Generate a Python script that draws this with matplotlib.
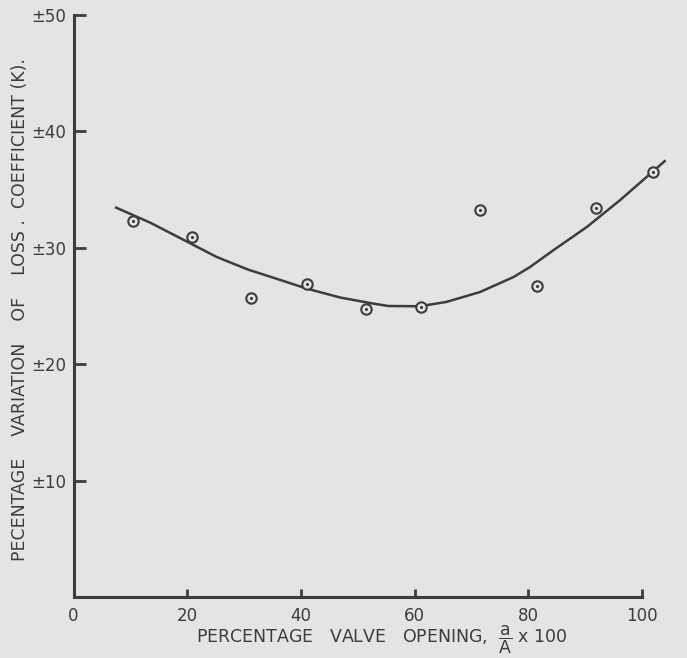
import matplotlib
matplotlib.use('Agg')
import matplotlib.pyplot as plt

# Measured points (valve opening %, variation of K %)
opening = [10.4, 20.8, 31.3, 41.1, 51.4, 61.1, 71.5, 81.6, 91.9, 102.0]
variation = [32.27, 30.93, 25.73, 26.87, 24.78, 24.92, 33.28, 26.72, 33.45, 36.5]

# Hand-drawn trend curve, read along its length
curve_x = [7.5, 13.5, 19.3, 25.2, 30.7, 35.1, 41.0, 46.9, 52.7, 55.4, 60.9,
           65.6, 71.5, 77.4, 80.3, 84.4, 90.3, 96.1, 100.8, 104.0]
curve_y = [33.45, 32.16, 30.70, 29.21, 28.13, 27.44, 26.50, 25.73, 25.21, 25.0,
           24.98, 25.35, 26.2, 27.49, 28.35, 29.79, 31.79, 34.08, 36.08, 37.45]

xticks = [0, 20, 40, 60, 80, 100]
yticks = [10, 20, 30, 40, 50]
ytick_labels = ['\u00b110', '\u00b120', '\u00b130', '\u00b140', '\u00b150']

bg = '#e4e4e2'
ink = '#3c3c3c'

fig = plt.figure(figsize=(6.87, 6.58), dpi=100, facecolor=bg)
ax = fig.add_axes([0.107, 0.0927, 0.8937, 0.9057])
ax.set_facecolor(bg)

ax.plot(curve_x, curve_y, color=ink, lw=1.8, clip_on=False, zorder=2)
ax.plot(opening, variation, 'o', ms=7.5, mfc=bg, mec=ink, mew=1.5,
        clip_on=False, zorder=3)
ax.plot(opening, variation, '.', ms=2.5, color=ink, clip_on=False, zorder=4)

ax.set_xlim(0, 108)
ax.set_ylim(0, 51.2)
for s in ['top', 'right']:
    ax.spines[s].set_visible(False)
ax.spines['left'].set_bounds(0, 50)
ax.spines['bottom'].set_bounds(0, 100)
for s in ['left', 'bottom']:
    ax.spines[s].set_linewidth(2.2)
    ax.spines[s].set_color(ink)

ax.set_xticks(xticks)
ax.set_yticks(yticks)
ax.set_yticklabels(ytick_labels)
ax.tick_params(axis='y', direction='in', length=8.5, width=2, color=ink,
               labelsize=12, labelcolor=ink, pad=5)
ax.tick_params(axis='x', direction='in', length=6, width=2, color=ink,
               labelsize=12, labelcolor=ink, pad=7)

fig.text(382 / 687, 0.022, r'PERCENTAGE   VALVE   OPENING,  $\mathsf{\dfrac{a}{A}}$ x 100',
         ha='center', va='baseline', fontsize=12.5, color=ink)
fig.text(20 / 687, 0.529,
         'PECENTAGE    VARIATION    OF    LOSS .  COEFFICIENT (K).',
         rotation=90, ha='center', va='center', fontsize=12.5, color=ink)

fig.savefig('out.png', dpi=100, facecolor=bg)
